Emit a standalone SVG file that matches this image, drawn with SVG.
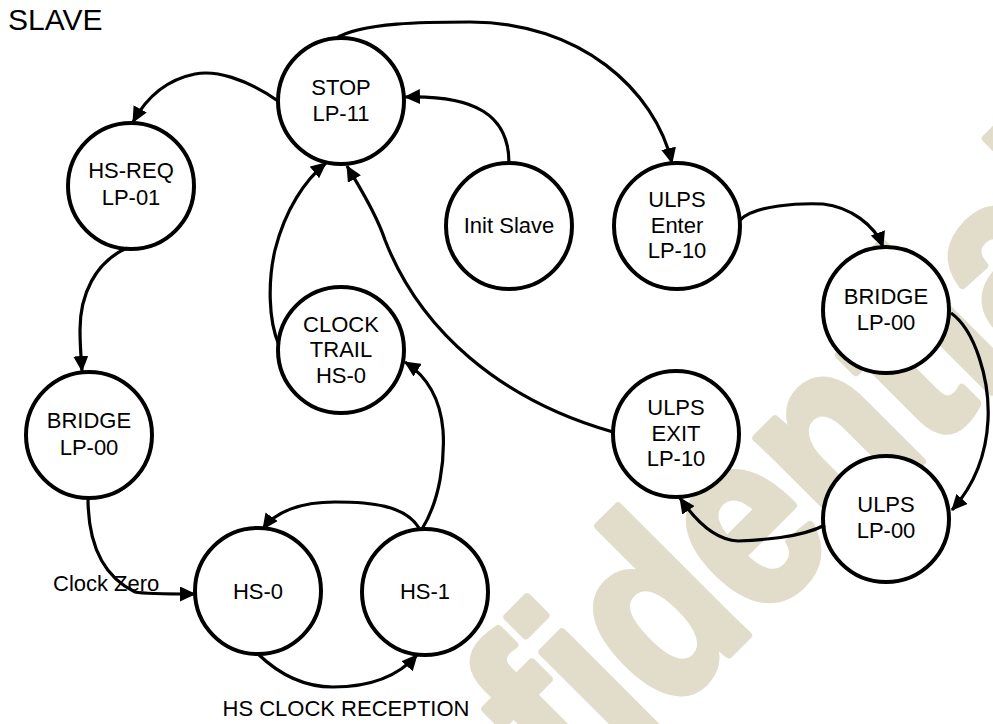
<svg xmlns="http://www.w3.org/2000/svg" width="993" height="724" viewBox="0 0 993 724">
<defs>
<style>
.n{fill:#fff;stroke:#000;stroke-width:4}
.t{font-family:"Liberation Sans",Arial,sans-serif;font-size:22px;fill:#000;text-anchor:middle}
.c{fill:none;stroke:#000;stroke-width:3.2}
.lbl{font-family:"Liberation Sans",Arial,sans-serif;font-size:22px;fill:#000}
.wm{font-family:"Liberation Sans",Arial,sans-serif;font-weight:bold;font-size:210px;fill:#e2ddca;stroke:#e2ddca;stroke-width:7;stroke-linejoin:round}
</style>
<marker id="ah" viewBox="0 0 16 15" refX="15" refY="7.5" markerWidth="16" markerHeight="15" markerUnits="userSpaceOnUse" orient="auto">
<path d="M0,0 L16,7.5 L0,15 z" fill="#000"/>
</marker>
</defs>
<rect width="993" height="724" fill="#fff"/>
<g id="watermark">
<text class="wm" transform="translate(288,1095) rotate(-45) scale(1,1.2)">Confidential</text>
</g>
<text class="lbl" x="8" y="30" style="font-size:30px">SLAVE</text>
<g id="stop"><circle class="n" cx="341" cy="101" r="63"/><text class="t" x="341" y="95">STOP</text><text class="t" x="341" y="121">LP-11</text></g>
<g id="hsreq"><circle class="n" cx="131" cy="186" r="63"/><text class="t" x="131" y="178">HS-REQ</text><text class="t" x="131" y="205">LP-01</text></g>
<g id="init"><circle class="n" cx="509" cy="226" r="63"/><text class="t" x="509" y="233">Init Slave</text></g>
<g id="ulpsenter"><circle class="n" cx="677" cy="226" r="63"/><text class="t" x="677" y="207">ULPS</text><text class="t" x="677" y="233">Enter</text><text class="t" x="677" y="258">LP-10</text></g>
<g id="bridgeR"><circle class="n" cx="886" cy="310" r="63"/><text class="t" x="886" y="304">BRIDGE</text><text class="t" x="886" y="330">LP-00</text></g>
<g id="ulpsexit"><circle class="n" cx="676" cy="434" r="63"/><text class="t" x="676" y="415">ULPS</text><text class="t" x="676" y="441">EXIT</text><text class="t" x="676" y="466">LP-10</text></g>
<g id="ulps00"><circle class="n" cx="886" cy="519" r="63"/><text class="t" x="886" y="512">ULPS</text><text class="t" x="886" y="538">LP-00</text></g>
<g id="clocktrail"><circle class="n" cx="341" cy="350" r="63"/><text class="t" x="341" y="332">CLOCK</text><text class="t" x="341" y="357">TRAIL</text><text class="t" x="341" y="383">HS-0</text></g>
<g id="bridgeL"><circle class="n" cx="89" cy="435" r="63"/><text class="t" x="89" y="428">BRIDGE</text><text class="t" x="89" y="455">LP-00</text></g>
<g id="hs0"><circle class="n" cx="258" cy="591" r="63"/><text class="t" x="258" y="599">HS-0</text></g>
<g id="hs1"><circle class="n" cx="425" cy="592" r="63"/><text class="t" x="425" y="599">HS-1</text></g>
<g id="connectors">
<path class="c" marker-end="url(#ah)" d="M278,101 C245,78 215,70 195,74 C165,80 145,100 133,122"/>
<path class="c" marker-end="url(#ah)" d="M127,248 C95,262 80,295 80,330 C80,345 81,358 82,371"/>
<path class="c" marker-end="url(#ah)" d="M509,163 C509,115 475,95 405,97"/>
<path class="c" marker-end="url(#ah)" d="M335,39 C360,22 430,22 470,22 C580,22 655,90 672,163"/>
<path class="c" marker-end="url(#ah)" d="M740,220 C755,205 800,203 823,204 C850,207 875,225 883,247"/>
<path class="c" marker-end="url(#ah)" d="M951,313 C975,330 990,380 988,420 C986,460 970,490 952,510"/>
<path class="c" marker-end="url(#ah)" d="M825,525 C800,538 760,540 738,541 C715,540 695,520 680,498"/>
<path class="c" marker-end="url(#ah)" d="M613,432 C500,400 420,330 385,240 C375,210 355,180 347,166"/>
<path class="c" marker-end="url(#ah)" d="M279,345 C268,320 268,280 275,250 C285,210 305,180 326,163"/>
<path class="c" marker-end="url(#ah)" d="M422,529 C440,500 445,460 443,430 C440,395 425,375 405,362"/>
<path class="c" marker-end="url(#ah)" d="M419,528 C405,505 370,502 335,502 C300,502 275,512 263,529"/>
<path class="c" marker-end="url(#ah)" d="M258,654 C285,680 310,687 333,687 C365,687 395,680 417,655"/>
<path class="c" marker-end="url(#ah)" d="M88,498 C88,540 100,575 135,592 C145,594 160,594 195,594"/>
</g>
<text class="lbl" x="53" y="591">Clock Zero</text>
<text class="lbl" x="346" y="716" text-anchor="middle">HS CLOCK RECEPTION</text>
</svg>
